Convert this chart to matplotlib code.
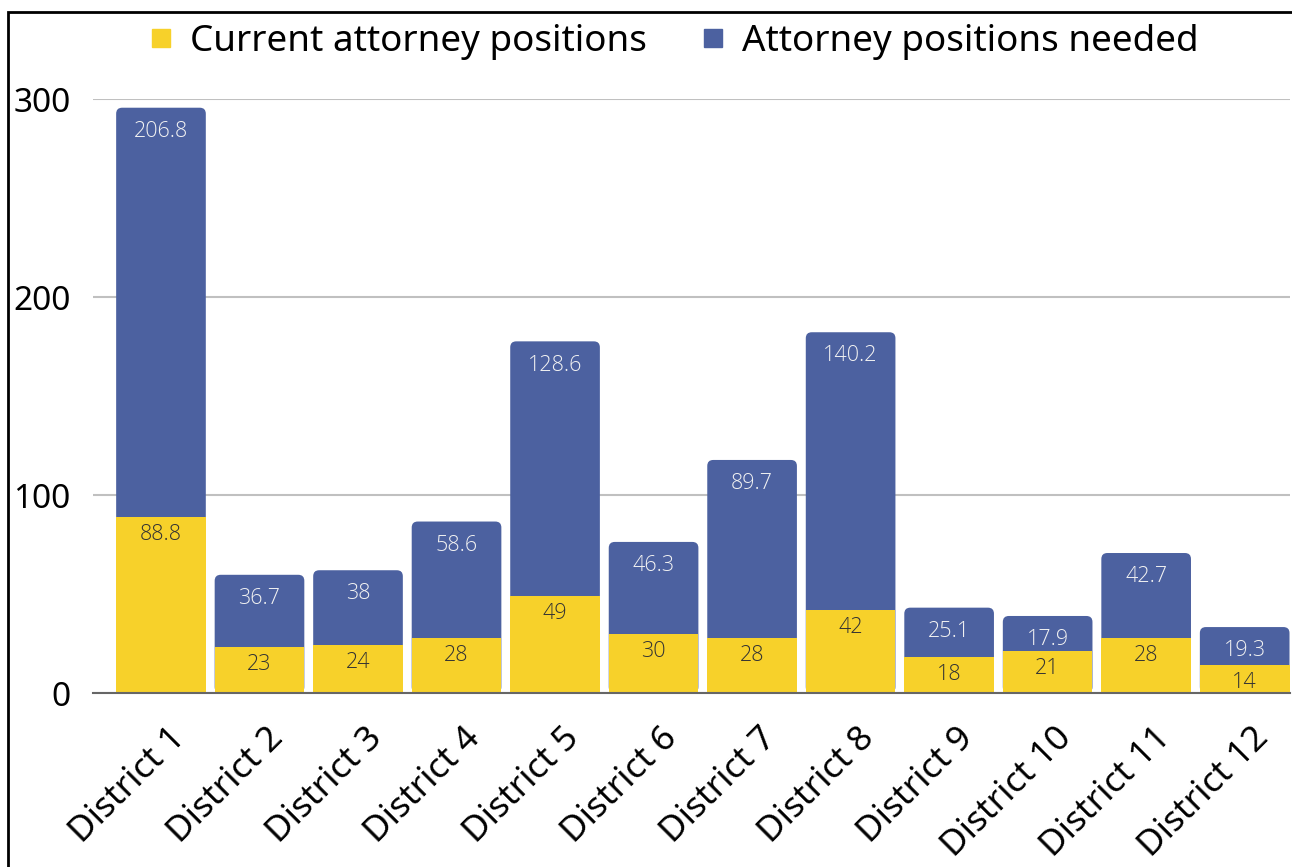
import matplotlib
matplotlib.use("Agg")
import matplotlib.pyplot as plt
from matplotlib.patches import FancyBboxPatch, Rectangle
from matplotlib.lines import Line2D
import matplotlib.transforms as mtransforms

districts = ["District 1", "District 2", "District 3", "District 4", "District 5", "District 6",
             "District 7", "District 8", "District 9", "District 10", "District 11", "District 12"]
current = [88.8, 23, 24, 28, 49, 30, 28, 42, 18, 21, 28, 14]
needed = [206.8, 36.7, 38, 58.6, 128.6, 46.3, 89.7, 140.2, 25.1, 17.9, 42.7, 19.3]
current_labels = ["88.8", "23", "24", "28", "49", "30", "28", "42", "18", "21", "28", "14"]
needed_labels = ["206.8", "36.7", "38", "58.6", "128.6", "46.3", "89.7", "140.2", "25.1", "17.9", "42.7", "19.3"]
yticks = [0, 100, 200, 300]

YELLOW = "#F7D12A"
BLUE = "#4C61A0"
FONT = ["Noto Sans", "DejaVu Sans"]
LFONT = ["Open Sans", "Noto Sans", "DejaVu Sans"]

W, H = 1292, 867
fig = plt.figure(figsize=(W / 100, H / 100), dpi=100)
left, right, top, bottom = 93, 1290, 99, 693
ax = fig.add_axes([left / W, 1 - bottom / H, (right - left) / W, (bottom - top) / H])

x = list(range(len(districts)))
xlim = (-0.69, 11.46)
ylim = (0, 300)
ax.set_xlim(*xlim)
ax.set_ylim(*ylim)
bw = 0.91

totals = [c + n for c, n in zip(current, needed)]

# blue (needed) segments with rounded tops drawn from 0 to total; yellow drawn over them
wpx = right - left
hpx = bottom - top
ux = (xlim[1] - xlim[0]) / wpx
uy = (ylim[1] - ylim[0]) / hpx
rad_px = 6
blue_bars = ax.bar(x, needed, bw, bottom=current, color=BLUE, visible=False)
for rect in blue_bars:
    x0 = rect.get_x()
    top_y = rect.get_y() + rect.get_height()
    p = FancyBboxPatch((x0, 0), rect.get_width(), top_y,
                       boxstyle=f"round,pad=0,rounding_size={rad_px * ux}",
                       mutation_aspect=uy / ux, facecolor=BLUE, edgecolor="none", zorder=2)
    ax.add_patch(p)
yellow_bars = ax.bar(x, current, bw, color=YELLOW, edgecolor="none", zorder=3)

for xi, c, t, cl, nl in zip(x, current, totals, current_labels, needed_labels):
    ax.annotate(nl, (xi, t), xytext=(0, -9.5), textcoords="offset points", ha="center", va="top",
                fontsize=15.5, color="#F2F2F2", family=LFONT, fontweight="light", zorder=5)
    ax.annotate(cl, (xi, c), xytext=(0, -5), textcoords="offset points", ha="center", va="top",
                fontsize=15.5, color="#333333", family=LFONT, fontweight="light", zorder=5)

ax.set_yticks(yticks)
ax.set_yticklabels([str(v) for v in yticks], family=FONT, fontsize=24)
ax.yaxis.grid(True, color="#C0C0C0", linewidth=1.5, zorder=0)
ax.set_axisbelow(True)
ax.tick_params(axis="y", length=0, pad=16)
ax.tick_params(axis="x", length=0)
ax.set_xticks(x)
ax.set_xticklabels(districts, rotation=45, ha="right", va="center", rotation_mode="anchor",
                   family=FONT, fontsize=25.5)
offset = mtransforms.ScaledTranslation(19 / 100, -35 / 100, fig.dpi_scale_trans)
for lab in ax.get_xticklabels():
    lab.set_transform(lab.get_transform() + offset)

for s in ["left", "right", "top"]:
    ax.spines[s].set_visible(False)
ax.spines["bottom"].set_color("#666666")
ax.spines["bottom"].set_linewidth(1.5)
ax.spines["bottom"].set_zorder(4)

handles = [Line2D([], [], marker="s", linestyle="none", markersize=12.5, color=YELLOW),
           Line2D([], [], marker="s", linestyle="none", markersize=12.5, color=BLUE)]
fig.legend(handles, ["Current attorney positions", "Attorney positions needed"],
           loc="center", bbox_to_anchor=(675 / W, 1 - 42 / H), ncol=2, frameon=False,
           prop={"family": FONT, "size": 26.5}, handlelength=0.5, handletextpad=0.53,
           columnspacing=1.55)

# outer frame
fig.patches.append(Rectangle((7.5 / W, -0.1), 1.2, 1 - 12 / H + 0.1, transform=fig.transFigure,
                             fill=False, edgecolor="black", linewidth=2))

fig.savefig("out.png", dpi=100)
